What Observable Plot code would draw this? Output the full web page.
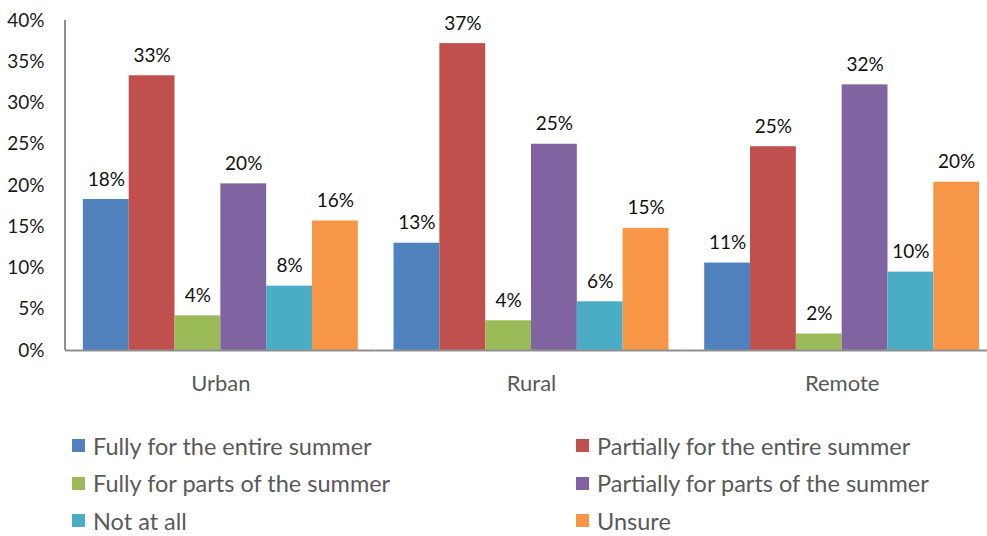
<!DOCTYPE html>
<html>
<head>
<meta charset="utf-8">
<script src="https://cdn.jsdelivr.net/npm/d3@7"></script>
<script src="https://cdn.jsdelivr.net/npm/@observablehq/plot@0.6"></script>
<style>
  body { margin: 0; background: #fff; font-family: Lato, "Open Sans", sans-serif; }
  #wrap { position: relative; width: 987px; height: 536px; overflow: hidden; background: #fff; }
  #legend { position: absolute; left: 72px; top: 427px; display: grid;
            grid-template-columns: 504px auto; grid-auto-rows: 37.5px; }
  .item { display: flex; align-items: center; font-size: 23.5px; color: #595959; white-space: nowrap; }
  .sw { width: 13px; height: 13px; margin-right: 8px; flex: none; }
</style>
</head>
<body>
<div id="wrap"><div id="chart"></div><div id="legend"></div></div>
<script>
const categories = ["Urban", "Rural", "Remote"];
const series = [
  "Fully for the entire summer",
  "Partially for the entire summer",
  "Fully for parts of the summer",
  "Partially for parts of the summer",
  "Not at all",
  "Unsure"
];
const colors = ["#4F81BD", "#C0504D", "#9BBB59", "#8064A2", "#4BACC6", "#F79646"];
const urban  = [18.3, 33.3, 4.2, 20.2, 7.8, 15.7];
const rural  = [13.0, 37.2, 3.6, 25.0, 5.9, 14.8];
const remote = [10.6, 24.7, 2.0, 32.2, 9.5, 20.4];
const yTicks = [0, 5, 10, 15, 20, 25, 30, 35, 40];

const valuesByCategory = [urban, rural, remote];
const data = [];
categories.forEach((c, i) => series.forEach((s, j) => data.push({category: c, series: s, value: valuesByCategory[i][j]})));

const chart = Plot.plot({
  width: 987,
  height: 400,
  marginTop: 20,
  marginBottom: 50,
  marginLeft: 65,
  marginRight: -10,
  style: { fontFamily: "Lato, 'Open Sans', sans-serif", background: "transparent", overflow: "visible" },
  fx: { domain: categories, padding: 0, round: false, label: null },
  x: { domain: series, paddingInner: 0, paddingOuter: 0.39, round: false, axis: null },
  y: { domain: [0, 40], label: null },
  color: { domain: series, range: colors },
  marks: [
    Plot.barY(data, { fx: "category", x: "series", y: "value", fill: "series" }),
    Plot.text(data, { fx: "category", x: "series", y: "value",
      text: d => Math.round(d.value) + "%", dy: -20, fontSize: 19, fill: "#111" }),
    Plot.ruleY([0], { stroke: "#8f8f8f", strokeWidth: 2 }),
    Plot.axisY(yTicks, { tickSize: 0, tickPadding: 21, tickFormat: d => d + "%", fontSize: 19, fill: "#1a1a1a", label: null }),
    Plot.axisFx({ anchor: "bottom", tickSize: 0, tickPadding: 25, fontSize: 22, fill: "#595959", label: null })
  ]
});
document.getElementById("chart").appendChild(chart);

// vertical y-axis line at the left edge of the first facet, from the library scales
const fx = chart.scale("fx"), y = chart.scale("y");
const x0 = fx.apply(categories[0]);
d3.select(chart).append("line")
  .attr("x1", x0).attr("x2", x0)
  .attr("y1", y.apply(0)).attr("y2", y.apply(40))
  .attr("stroke", "#8f8f8f").attr("stroke-width", 2);

const legend = document.getElementById("legend");
series.forEach((s, i) => {
  const item = document.createElement("div");
  item.className = "item";
  const sw = document.createElement("span");
  sw.className = "sw";
  sw.style.background = colors[i];
  item.appendChild(sw);
  item.appendChild(document.createTextNode(s));
  legend.appendChild(item);
});
</script>
</body>
</html>
